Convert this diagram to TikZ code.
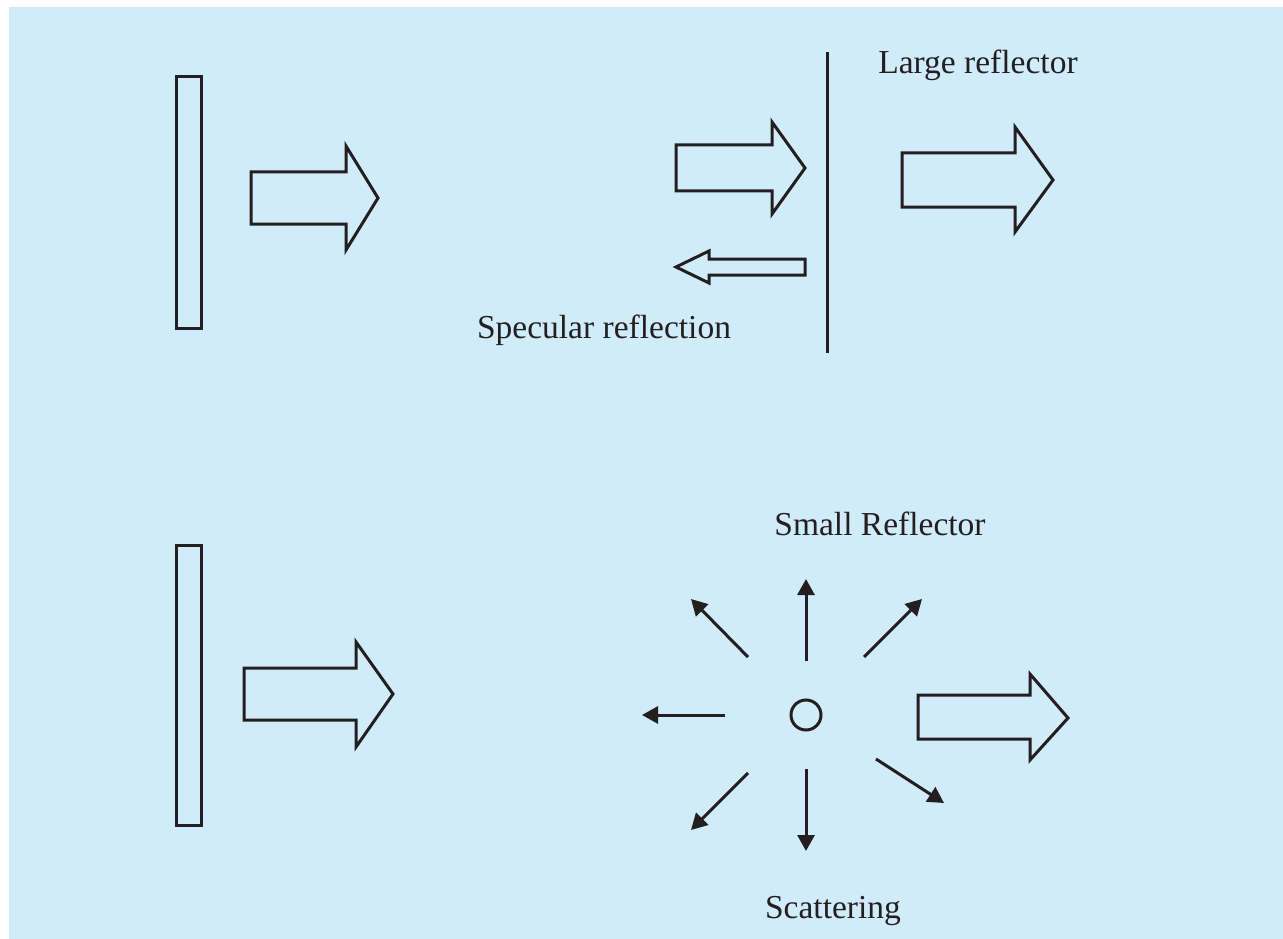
\documentclass[tikz,border=0pt]{standalone}
\usepackage{fontspec}
\setmainfont{Liberation Serif}
\usetikzlibrary{arrows.meta,calc}
\definecolor{sky}{HTML}{D0ECFA}
\definecolor{ink}{HTML}{231F20}
\tikzset{
  outline/.style={draw=ink, line width=3pt, line join=miter},
  bararrow/.style={draw=ink, line width=3pt, -{Triangle[length=16pt,width=17pt]}},
  caption/.style={text=ink, font=\fontsize{33.5}{40}\selectfont, inner sep=0pt, anchor=base},
}
\begin{document}
\begin{tikzpicture}[x=1pt,y=-1pt]
\useasboundingbox (0,0) rectangle (1283,939);
\fill[sky] (9,7) rectangle (1283,939);

% ---- upper panel: large reflector ----
\draw[outline] (176,77) rectangle (201,328);
\draw[outline] (251,172) -- (346,172) -- (346,146) -- (378,198) -- (346,250) -- (346,224) -- (251,224) -- cycle;
\draw[outline] (676,145) -- (772,145) -- (772,122) -- (805,168) -- (772,214) -- (772,191) -- (676,191) -- cycle;
\draw[outline] (805,259) -- (709,259) -- (709,251) -- (676,267) -- (709,283) -- (709,275) -- (805,275) -- cycle;
\coordinate (wtop) at (827,52);
\coordinate (wbot) at (827,353);
\draw[draw=ink, line width=3pt] (wtop) -- (wbot);
\draw[outline] (902,153) -- (1015,153) -- (1015,127) -- (1053,180) -- (1015,232) -- (1015,207) -- (902,207) -- cycle;
\node[caption] (large) at (978,74) {Large reflector};
\node[caption] (spec) at (604,338) {Specular reflection};

% ---- lower panel: small reflector ----
\draw[outline] (176,545) rectangle (201,825);
\draw[outline] (244,668) -- (356,668) -- (356,642) -- (393,694) -- (356,747) -- (356,720) -- (244,720) -- cycle;
\draw[outline] (918,695) -- (1030,695) -- (1030,674) -- (1068,718) -- (1030,760) -- (1030,739) -- (918,739) -- cycle;
\node[draw=ink, line width=3pt, circle, minimum size=30pt, inner sep=0pt] (ball) at (806,715) {};

\coordinate (s1) at (806,661);  \coordinate (e1) at (806,579);
\coordinate (s2) at (748,657);  \coordinate (e2) at (691,599);
\coordinate (s3) at (864,657);  \coordinate (e3) at (922,599);
\coordinate (s4) at (725,715);  \coordinate (e4) at (642,715);
\coordinate (s5) at (748,773);  \coordinate (e5) at (691,830);
\coordinate (s6) at (806,769);  \coordinate (e6) at (806,851);
\coordinate (s7) at (876,759);  \coordinate (e7) at (944,803);
\foreach \i in {1,...,7} \draw[bararrow] (s\i) -- (e\i);

\node[caption] (small) at (880,535) {Small Reflector};
\node[caption] (scat) at (833,918) {Scattering};
\end{tikzpicture}
\end{document}
